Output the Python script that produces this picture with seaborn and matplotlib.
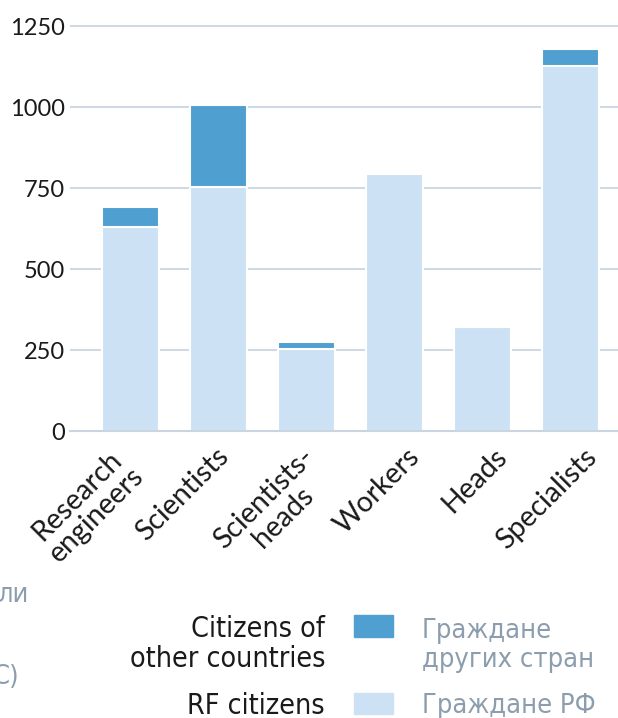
import numpy as np
import pandas as pd
import matplotlib
matplotlib.use('Agg')
import matplotlib.pyplot as plt
import seaborn as sns
from matplotlib.patches import Rectangle
from matplotlib.transforms import ScaledTranslation

# data
categories = ['Research\nengineers', 'Scientists', 'Scientists-\nheads',
              'Workers', 'Heads', 'Specialists']
rf_citizens = [630, 754, 252, 793, 322, 1127]
other_citizens = [61, 251, 24, 0, 0, 52]
yticks = [0, 250, 500, 750, 1000, 1250]

dark = '#4f9fd1'
light = '#cce2f4'
grey = '#8c9dad'
gridc = '#c9d6e1'

df = pd.DataFrame({'category': categories,
                   'rf': rf_citizens,
                   'other': other_citizens})
df['total'] = df['rf'] + df['other']

sns.set_theme(style='white')
plt.rcParams['font.family'] = ['Lato', 'DejaVu Sans']

W, H = 618, 718
fig = plt.figure(figsize=(W / 100, H / 100), dpi=100)


def fx(px):
    return px / W


def fy(py):
    return 1 - py / H


ax = fig.add_axes([fx(70), fy(431), fx(548), (431 - 22.8) / H])

sns.barplot(data=df, x='category', y='total', color=dark, saturation=1,
            width=0.648, edgecolor='white', linewidth=1.5, errorbar=None, ax=ax)
sns.barplot(data=df, x='category', y='rf', color=light, saturation=1,
            width=0.648, edgecolor='white', linewidth=1.5, errorbar=None, ax=ax)

ax.set_xlim(-0.682, 5.545)
ax.set_ylim(0, 1260)
ax.set_yticks(yticks)
ax.set_yticklabels([str(v) for v in yticks])
ax.yaxis.grid(True, color=gridc, linewidth=1.3)
ax.set_axisbelow(True)
ax.set_xlabel('')
ax.set_ylabel('')
for s in ['top', 'right', 'left']:
    ax.spines[s].set_visible(False)
ax.spines['bottom'].set_color(gridc)
ax.spines['bottom'].set_linewidth(1.5)

ax.tick_params(axis='y', length=0, pad=3.6, labelsize=17, labelcolor='#1a1a1a')
ax.tick_params(axis='x', length=0, pad=9, labelsize=20.5, labelcolor='#1a1a1a')
ax.set_xticks(range(len(categories)))
ax.set_xticklabels(categories, rotation=45, ha='right', va='top',
                   rotation_mode='anchor', multialignment='center',
                   linespacing=1.05)
label_dx = [-19, -3, -5, 12, 12, 13]
for lab, dx in zip(ax.get_xticklabels(), label_dx):
    lab.set_transform(lab.get_transform() +
                      ScaledTranslation(dx / 100, 0, fig.dpi_scale_trans))

# legend
leg_font = dict(family='DejaVu Sans', fontstretch='condensed', fontsize=20.5)
ru_font = dict(family='DejaVu Sans', fontstretch='condensed', fontsize=19.5)
fig.text(fx(325), fy(667), 'Citizens of\nother countries', ha='right',
         va='baseline', multialignment='right', linespacing=1.08,
         color='#1a1a1a', **leg_font)
fig.text(fx(325), fy(713.5), 'RF citizens', ha='right', va='baseline',
         color='#1a1a1a', **leg_font)
fig.text(fx(422), fy(667), 'Граждане\nдругих стран', ha='left',
         va='baseline', linespacing=1.13, color=grey, **ru_font)
fig.text(fx(422), fy(713), 'Граждане РФ', ha='left', va='baseline',
         color=grey, **ru_font)
fig.patches.append(Rectangle((fx(354), fy(637)), fx(39), 22 / H,
                             transform=fig.transFigure, color=dark))
fig.patches.append(Rectangle((fx(354), fy(714)), fx(39), 21 / H,
                             transform=fig.transFigure, color=light))

# fragments of text cut off at the left edge
fig.text(fx(29), fy(602), 'ли', ha='right', va='baseline', color=grey,
         **ru_font)
fig.text(fx(19), fy(684), 'С)', ha='right', va='baseline', color=grey,
         **ru_font)

fig.savefig('out.png', dpi=100)
